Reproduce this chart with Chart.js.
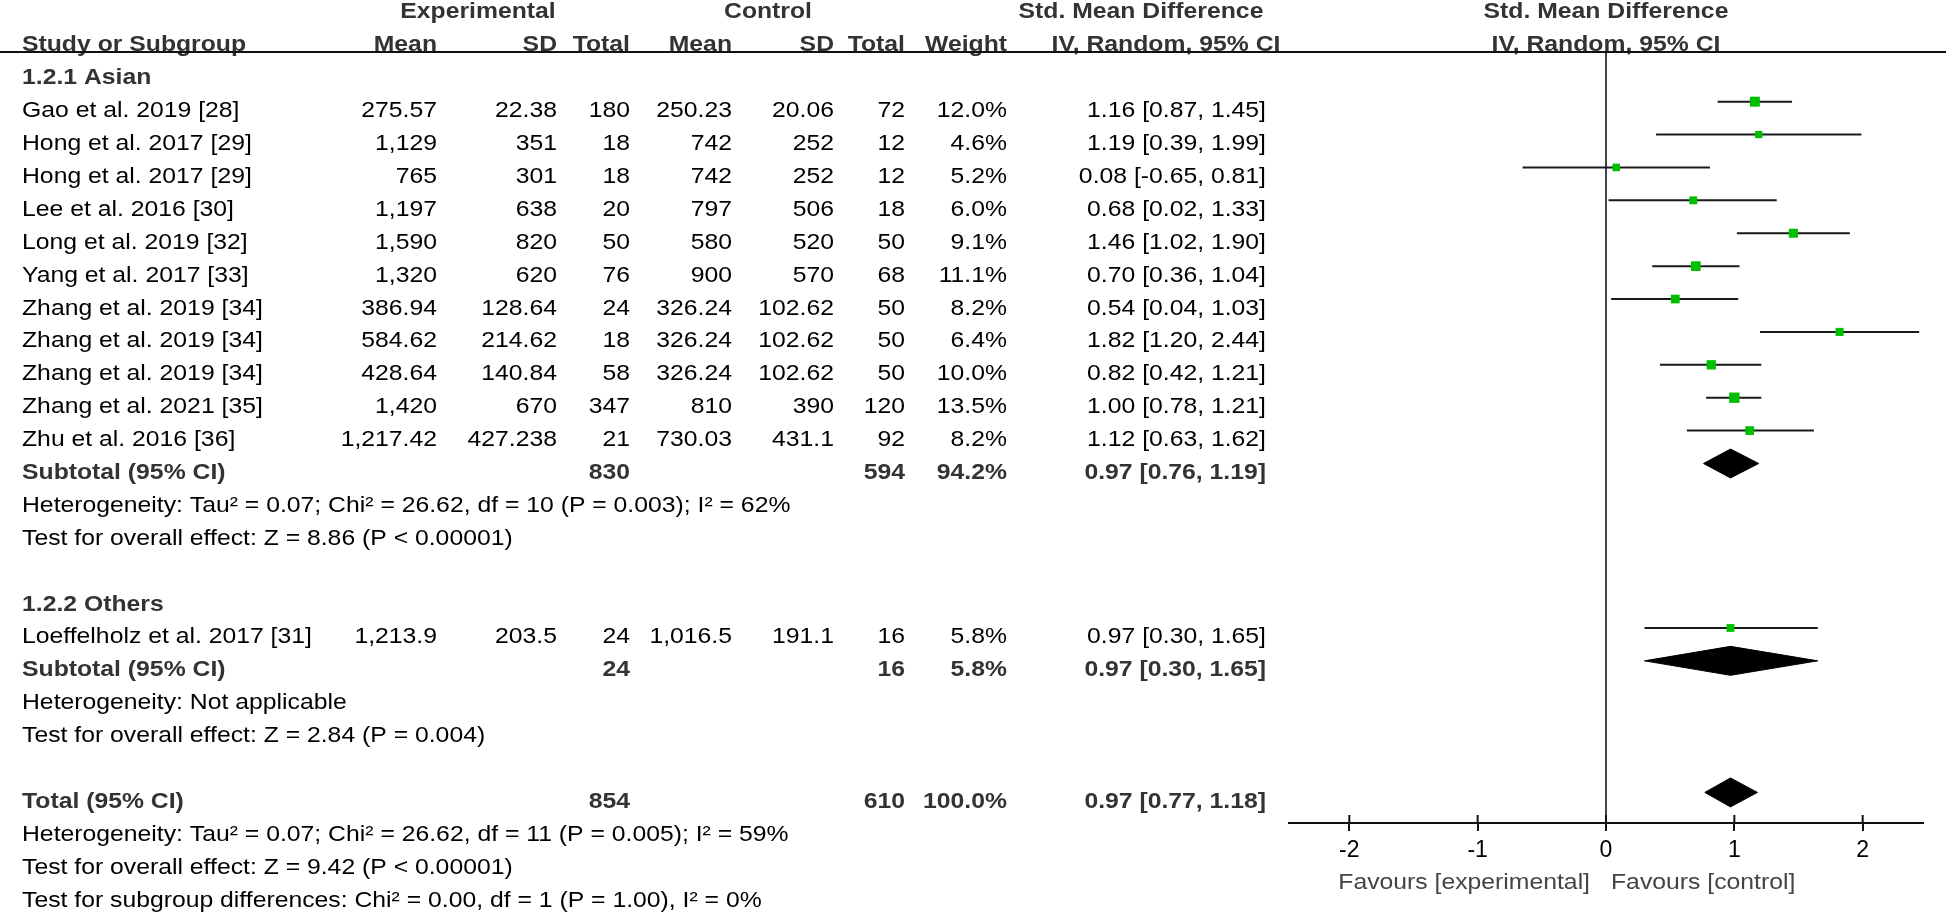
<!DOCTYPE html>
<html>
<head>
<meta charset="utf-8">
<script src="https://cdn.jsdelivr.net/npm/chart.js@4.4.1/dist/chart.umd.min.js"></script>
<style>
  html, body { margin: 0; padding: 0; background: #fff; }
  canvas { display: block; }
</style>
</head>
<body>
<canvas id="forestChart" width="1946" height="912"></canvas>
<script>
// study level data
const studyNames = [
  "Gao et al. 2019 [28]", "Hong et al. 2017 [29]", "Hong et al. 2017 [29]",
  "Lee et al. 2016 [30]", "Long et al. 2019 [32]", "Yang et al. 2017 [33]",
  "Zhang et al. 2019 [34]", "Zhang et al. 2019 [34]", "Zhang et al. 2019 [34]",
  "Zhang et al. 2021 [35]", "Zhu et al. 2016 [36]", "Loeffelholz et al. 2017 [31]"
];
const studyGroup = [0, 0, 0, 0, 0, 0, 0, 0, 0, 0, 0, 1];
const expMean = [275.57, 1129, 765, 1197, 1590, 1320, 386.94, 584.62, 428.64, 1420, 1217.42, 1213.9];
const expSD = [22.38, 351, 301, 638, 820, 620, 128.64, 214.62, 140.84, 670, 427.238, 203.5];
const expTotal = [180, 18, 18, 20, 50, 76, 24, 18, 58, 347, 21, 24];
const ctlMean = [250.23, 742, 742, 797, 580, 900, 326.24, 326.24, 326.24, 810, 730.03, 1016.5];
const ctlSD = [20.06, 252, 252, 506, 520, 570, 102.62, 102.62, 102.62, 390, 431.1, 191.1];
const ctlTotal = [72, 12, 12, 18, 50, 68, 50, 50, 50, 120, 92, 16];
const weight = [12.0, 4.6, 5.2, 6.0, 9.1, 11.1, 8.2, 6.4, 10.0, 13.5, 8.2, 5.8];
const smd = [1.16, 1.19, 0.08, 0.68, 1.46, 0.70, 0.54, 1.82, 0.82, 1.00, 1.12, 0.97];
const ciLow = [0.87, 0.39, -0.65, 0.02, 1.02, 0.36, 0.04, 1.20, 0.42, 0.78, 0.63, 0.30];
const ciHigh = [1.45, 1.99, 0.81, 1.33, 1.90, 1.04, 1.03, 2.44, 1.21, 1.21, 1.62, 1.65];

// subgroups
const groupNames = ["1.2.1 Asian", "1.2.2 Others"];
const subExpTotal = [830, 24];
const subCtlTotal = [594, 16];
const subWeight = [94.2, 5.8];
const subSmd = [0.97, 0.97];
const subLow = [0.76, 0.30];
const subHigh = [1.19, 1.65];
const subHet = [
  "Heterogeneity: Tau² = 0.07; Chi² = 26.62, df = 10 (P = 0.003); I² = 62%",
  "Heterogeneity: Not applicable"
];
const subEffect = [
  "Test for overall effect: Z = 8.86 (P < 0.00001)",
  "Test for overall effect: Z = 2.84 (P = 0.004)"
];

// overall
const totalExp = 854;
const totalCtl = 610;
const totalWeight = 100.0;
const totalSmd = 0.97;
const totalLow = 0.77;
const totalHigh = 1.18;
const totalNotes = [
  "Heterogeneity: Tau² = 0.07; Chi² = 26.62, df = 11 (P = 0.005); I² = 59%",
  "Test for overall effect: Z = 9.42 (P < 0.00001)",
  "Test for subgroup differences: Chi² = 0.00, df = 1 (P = 1.00), I² = 0%"
];

const xTicks = [-2, -1, 0, 1, 2];
const favourLeft = "Favours [experimental]";
const favourRight = "Favours [control]";

// ---- layout ----
const FONT = "Liberation Sans, Arial, sans-serif";
const FSIZE = 22.5;
const SX = 1.1;
const col = { name: 22, expMean: 437, expSD: 557, expN: 630, ctlMean: 732, ctlSD: 834, ctlN: 905, weight: 1007, ci: 1266 };

const num = (v) => v.toLocaleString("en-US", { maximumFractionDigits: 3 });
const pct = (v) => v.toFixed(1) + "%";
const ci = (e, l, h) => `${e.toFixed(2)} [${l.toFixed(2)}, ${h.toFixed(2)}]`;

// build table rows (n = row index on the y scale)
const tableRows = [];
const studyRow = [];
const summaries = [];
let n = -1;
groupNames.forEach((g, gi) => {
  tableRows.push({ n: n++, bold: true, cells: { name: g } });
  studyNames.forEach((s, i) => {
    if (studyGroup[i] !== gi) return;
    studyRow[i] = n;
    tableRows.push({
      n: n++, bold: false,
      cells: {
        name: s, expMean: num(expMean[i]), expSD: num(expSD[i]), expN: num(expTotal[i]),
        ctlMean: num(ctlMean[i]), ctlSD: num(ctlSD[i]), ctlN: num(ctlTotal[i]),
        weight: pct(weight[i]), ci: ci(smd[i], ciLow[i], ciHigh[i])
      }
    });
  });
  summaries.push({ n: n, e: subSmd[gi], l: subLow[gi], h: subHigh[gi] });
  tableRows.push({
    n: n++, bold: true,
    cells: { name: "Subtotal (95% CI)", expN: num(subExpTotal[gi]), ctlN: num(subCtlTotal[gi]),
      weight: pct(subWeight[gi]), ci: ci(subSmd[gi], subLow[gi], subHigh[gi]) }
  });
  tableRows.push({ n: n++, bold: false, cells: { name: subHet[gi] } });
  tableRows.push({ n: n++, bold: false, cells: { name: subEffect[gi] } });
  n++;
});
summaries.push({ n: n, e: totalSmd, l: totalLow, h: totalHigh });
tableRows.push({
  n: n++, bold: true,
  cells: { name: "Total (95% CI)", expN: num(totalExp), ctlN: num(totalCtl),
    weight: pct(totalWeight), ci: ci(totalSmd, totalLow, totalHigh) }
});
totalNotes.forEach((t) => tableRows.push({ n: n++, bold: false, cells: { name: t } }));

// header rows
const headRows = [
  { n: -3, center: [["Experimental", 478], ["Control", 768], ["Std. Mean Difference", 1141]] },
  { n: -2, cells: { name: "Study or Subgroup", expMean: "Mean", expSD: "SD", expN: "Total",
      ctlMean: "Mean", ctlSD: "SD", ctlN: "Total", weight: "Weight" },
    center: [["IV, Random, 95% CI", 1166]] }
];

// ---- datasets ----
const ciSegments = [];
studyNames.forEach((s, i) => {
  ciSegments.push({ x: ciLow[i], y: studyRow[i] }, { x: ciHigh[i], y: studyRow[i] }, { x: null, y: null });
});
const markers = studyNames.map((s, i) => ({ x: smd[i], y: studyRow[i] }));
const DH = 0.44;
const diamondSets = summaries.map((d) => ({
  data: [
    { x: d.l, y: d.n }, { x: d.e, y: d.n - DH }, { x: d.h, y: d.n },
    { x: d.e, y: d.n + DH }, { x: d.l, y: d.n }
  ],
  showLine: true, fill: "shape", borderColor: "#000", backgroundColor: "#000",
  borderWidth: 1, pointRadius: 0, tension: 0
}));

const tablePlugin = {
  id: "forestTable",
  afterDraw(chart) {
    const { ctx, chartArea, scales: { x, y } } = chart;
    const put = (str, px, row, align, bold, color) => {
      ctx.save();
      ctx.font = (bold ? "bold " : "") + FSIZE + "px " + FONT;
      ctx.fillStyle = color || (bold ? "#333" : "#000");
      ctx.textAlign = align;
      ctx.textBaseline = "alphabetic";
      ctx.translate(px, y.getPixelForValue(row) + 15.5);
      ctx.scale(SX, 1);
      ctx.fillText(str, 0, 0);
      ctx.restore();
    };
    const putCells = (r, bold) => {
      Object.keys(r.cells).forEach((k) => {
        put(r.cells[k], col[k], r.n, k === "name" ? "left" : "right", bold);
      });
    };
    tableRows.forEach((r) => putCells(r, r.bold));
    headRows.forEach((r) => {
      if (r.cells) putCells(r, true);
      r.center.forEach(([t, px]) => put(t, px, r.n, "center", true));
    });
    const zero = x.getPixelForValue(0);
    put("Std. Mean Difference", zero, -3, "center", true);
    put("IV, Random, 95% CI", zero, -2, "center", true);

    // header rule
    ctx.save();
    ctx.strokeStyle = "#111";
    ctx.lineWidth = 2;
    ctx.beginPath();
    ctx.moveTo(0, chartArea.top);
    ctx.lineTo(chart.width, chartArea.top);
    // upper half of the tick marks
    x.ticks.forEach((t) => {
      const px = x.getPixelForValue(t.value);
      ctx.moveTo(px, chartArea.bottom - 8);
      ctx.lineTo(px, chartArea.bottom);
    });
    ctx.stroke();
    ctx.restore();

    // favours labels
    ctx.save();
    ctx.font = FSIZE + "px " + FONT;
    ctx.fillStyle = "#444";
    ctx.textBaseline = "alphabetic";
    ctx.translate(zero - 16, 889);
    ctx.scale(SX, 1);
    ctx.textAlign = "right";
    ctx.fillText(favourLeft, 0, 0);
    ctx.restore();
    ctx.save();
    ctx.font = FSIZE + "px " + FONT;
    ctx.fillStyle = "#444";
    ctx.translate(zero + 5, 889);
    ctx.scale(SX, 1);
    ctx.textAlign = "left";
    ctx.fillText(favourRight, 0, 0);
    ctx.restore();
  }
};

Chart.defaults.font.family = FONT;

new Chart(document.getElementById("forestChart").getContext("2d"), {
  type: "scatter",
  data: {
    datasets: [
      {
        data: markers,
        pointStyle: "rect",
        // square side grows with the study weight
        pointRadius: weight.map((w) => (3 + 2 * Math.sqrt(w)) / Math.SQRT2),
        backgroundColor: "#00bf00",
        borderWidth: 0
      },
      {
        data: ciSegments,
        showLine: true,
        spanGaps: false,
        borderColor: "#1a1a1a",
        borderWidth: 2,
        pointRadius: 0
      },
      ...diamondSets
    ]
  },
  options: {
    responsive: false,
    animation: false,
    events: [],
    layout: { padding: { left: 1289, right: 23, top: 52, bottom: 29 } },
    plugins: { legend: { display: false }, tooltip: { enabled: false } },
    scales: {
      x: {
        type: "linear",
        min: -2.47,
        max: 2.47,
        afterBuildTicks: (scale) => {
          scale.ticks = xTicks.map((v) => ({ value: v }));
        },
        afterFit: (scale) => {
          scale.height = 60;
        },
        grid: {
          color: (c) => (c.tick && c.tick.value === 0 ? "#444" : "rgba(0,0,0,0)"),
          lineWidth: 2,
          tickColor: "#111",
          tickWidth: 2,
          tickLength: 8
        },
        border: { display: true, color: "#111", width: 2 },
        ticks: { color: "#000", font: { size: 23 }, padding: 6, maxRotation: 0 }
      },
      y: { type: "linear", display: false, reverse: true, min: -1.51, max: 21.93 }
    }
  },
  plugins: [tablePlugin]
});
</script>
</body>
</html>
